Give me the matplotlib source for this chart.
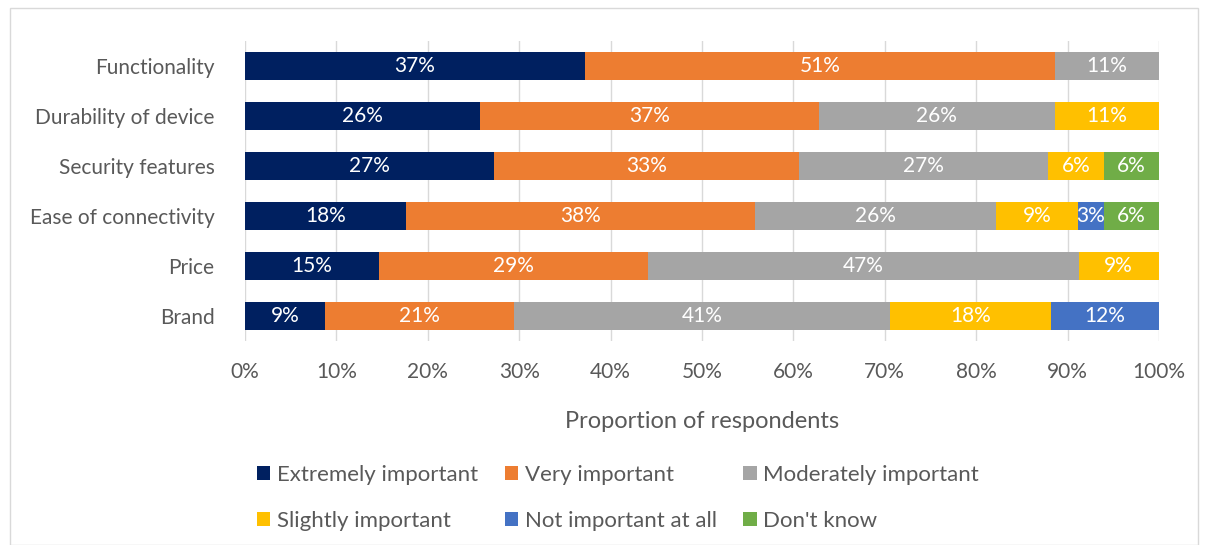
import matplotlib.pyplot as plt
import matplotlib.patches as patches
import numpy as np

plt.rcParams['font.family'] = ['Lato', 'DejaVu Sans']

# categories top to bottom
categories = ["Functionality", "Durability of device", "Security features",
              "Ease of connectivity", "Price", "Brand"]

series_names = ["Extremely important", "Very important", "Moderately important",
                "Slightly important", "Not important at all", "Don't know"]

# percentages per series (same order as categories)
extremely = [37.2, 25.7, 27.3, 17.6, 14.7, 8.8]
very = [51.4, 37.1, 33.3, 38.2, 29.4, 20.6]
moderately = [11.4, 25.8, 27.3, 26.4, 47.1, 41.2]
slightly = [0.0, 11.4, 6.1, 8.9, 8.8, 17.6]
not_at_all = [0.0, 0.0, 0.0, 2.9, 0.0, 11.8]
dont_know = [0.0, 0.0, 6.0, 6.0, 0.0, 0.0]

colors = ["#002060", "#ED7D31", "#A5A5A5", "#FFC000", "#4472C4", "#70AD47"]

series = [extremely, very, moderately, slightly, not_at_all, dont_know]
txt = "#595959"
fs = 15

fig = plt.figure(figsize=(12.08, 5.45), dpi=100)
ax = fig.add_axes([0.2028, 0.3743, 0.7566, 0.5505])

# chart frame
fig.patches.append(patches.Rectangle((10 / 1208, 0), 1188 / 1208, 1 - 8 / 545,
                                     transform=fig.transFigure, fill=False,
                                     edgecolor="#D9D9D9", lw=1))

y = np.arange(len(categories))
left = np.zeros(len(categories))
handles = []
for name, vals, c in zip(series_names, series, colors):
    vals = np.array(vals)
    bars = ax.barh(y, vals, left=left, height=0.56, color=c, label=name, zorder=3)
    handles.append(bars)
    for yi, l, v in zip(y, left, vals):
        if v > 0:
            ax.text(l + v / 2, yi, f"{v:.0f}%", ha="center", va="center",
                    color="white", fontsize=fs, zorder=4)
    left += vals

ax.set_ylim(len(categories) - 0.5, -0.5)
ax.set_xlim(0, 100)
ax.set_yticks(y)
ax.set_yticklabels(categories, fontsize=fs, color=txt)
ax.set_xticks(np.arange(0, 101, 10))
ax.set_xticklabels([f"{t}%" for t in range(0, 101, 10)], fontsize=fs, color=txt)
ax.tick_params(length=0)
ax.tick_params(axis="x", pad=15)
ax.tick_params(axis="y", pad=22)
ax.grid(axis="x", color="#D9D9D9", lw=1, zorder=0)
for s in ax.spines.values():
    s.set_visible(False)
ax.set_xlabel("Proportion of respondents", fontsize=17, color=txt, labelpad=21)

order = [0, 3, 1, 4, 2, 5]
leg = fig.legend([handles[i] for i in order], [series_names[i] for i in order],
                 ncol=3, loc="upper left", bbox_to_anchor=(237 / 1208, 1 - 445 / 545),
                 frameon=False, fontsize=16, handlelength=0.6, handleheight=0.6,
                 handletextpad=0.3, columnspacing=1.2, labelspacing=1.15)
for t in leg.get_texts():
    t.set_color(txt)

fig.savefig("out.png", dpi=100)
